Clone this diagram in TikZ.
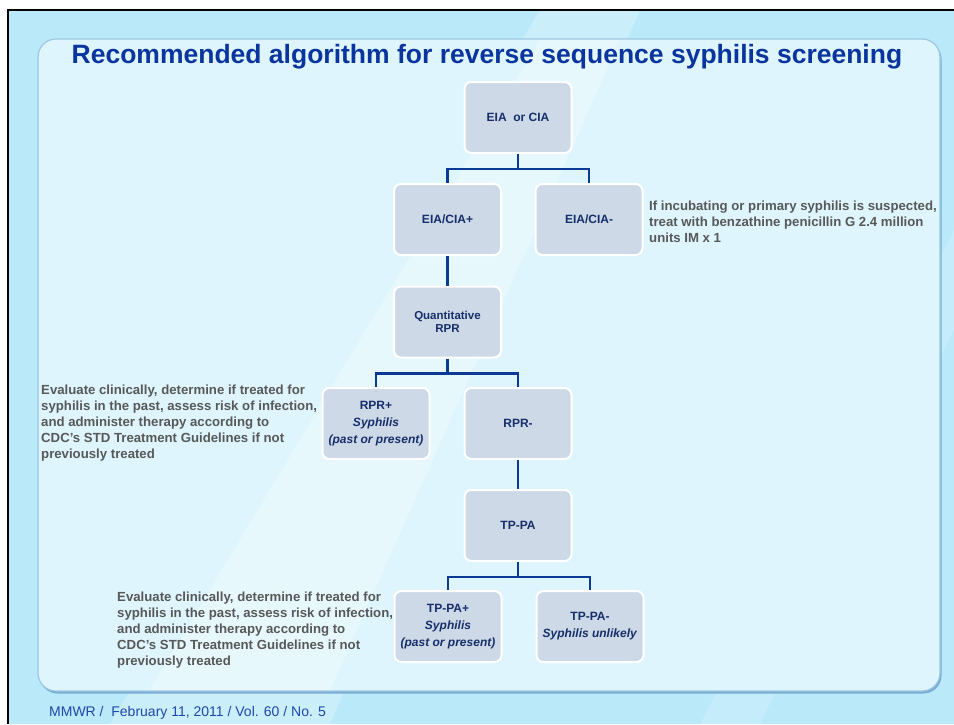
\documentclass[tikz,border=0pt]{standalone}
\usepackage{fontspec}
\setmainfont{Liberation Sans}
\usetikzlibrary{calc}
\definecolor{bgblue}{RGB}{186,233,250}
\definecolor{panelblue}{RGB}{222,245,253}
\definecolor{panelline}{RGB}{158,200,226}
\definecolor{panelshade}{RGB}{120,172,212}
\definecolor{boxfill}{RGB}{205,217,230}
\definecolor{boxtext}{RGB}{22,46,106}
\definecolor{connblue}{RGB}{10,58,148}
\definecolor{titleblue}{RGB}{10,52,158}
\definecolor{notegray}{RGB}{88,88,88}
\definecolor{footblue}{RGB}{30,72,168}
\tikzset{box/.style={rectangle,rounded corners=7pt,draw=white,line width=2pt,fill=boxfill,minimum width=107pt,minimum height=71pt,inner sep=2pt,align=center,text=boxtext,font=\fontsize{12}{17}\selectfont\bfseries}}
\tikzset{conn/.style={draw=connblue,line width=2.6pt}}
\tikzset{note/.style={anchor=west,align=left,inner sep=0pt,text=notegray,font=\fontsize{13.2}{16}\selectfont\bfseries}}

\begin{document}
\begin{tikzpicture}[x=1pt,y=-1pt]
\useasboundingbox (0,0) rectangle (954,724);
\fill[white] (0,0) rectangle (954,724);
\fill[bgblue] (8,10) rectangle (954,724);
% light streaks
\fill[white,opacity=0.25] (110,724) -- (330,724) -- (640,10) -- (540,10) -- cycle;
\fill[white,opacity=0.15] (700,724) -- (760,724) -- (954,330) -- (954,230) -- cycle;
\draw[black,line width=2pt] (8,724) -- (8,10) -- (954,10);
% panel
\fill[panelshade,rounded corners=18pt] (39.5,41) rectangle (941.5,693.5);
\fill[panelblue,draw=panelline,line width=1.2pt,rounded corners=18pt] (38,39) rectangle (940,691);
\fill[white,opacity=0.3] (150,690) -- (330,690) -- (620,40) -- (540,40) -- cycle;

\node[font=\fontsize{26.5}{30}\selectfont\bfseries,text=titleblue] (head) at (487,57) {Recommended algorithm for reverse sequence syphilis screening};

\node[box] (E) at (518,117.5) {EIA\ \ or CIA};
\node[box] (E1) at (447.5,219.5) {EIA/CIA+};
\node[box] (E2) at (589,219.5) {EIA/CIA-};
\node[box,font=\fontsize{11.5}{12.5}\selectfont\bfseries] (Q) at (447.5,322) {Quantitative\\RPR};
\node[box] (R1) at (376,423.5) {RPR+\\\textit{Syphilis}\\\textit{(past or present)}};
\node[box] (R2) at (518,423.5) {RPR-};
\node[box] (T) at (518,525.5) {TP-PA};
\node[box] (T1) at (448,626.5) {TP-PA+\\\textit{Syphilis}\\\textit{(past or present)}};
\node[box] (T2) at (590,626.5) {TP-PA-\\\textit{Syphilis unlikely}};

\draw[conn] (E.south) -- ++(0,15);
\draw[conn] (E1.north) |- ($(E.south)+(0,15)$) -| (E2.north);
\draw[conn] (E1.south) -- (Q.north);
\draw[conn] (Q.south) -- ++(0,15);
\draw[conn] (R1.north) |- ($(Q.south)+(0,15)$) -| (R2.north);
\draw[conn] (R2.south) -- (T.north);
\draw[conn] (T.south) -- ++(0,15);
\draw[conn] (T1.north) |- ($(T.south)+(0,15)$) -| (T2.north);

\node[note] (N1) at (649,222) {If incubating or primary syphilis is suspected,\\treat with benzathine penicillin G 2.4 million\\units IM x 1};
\node[note] (N2) at (41,423) {Evaluate clinically, determine if treated for\\syphilis in the past, assess risk of infection,\\and administer therapy according to\\CDC's STD Treatment Guidelines if not\\previously treated};
\node[note] (N3) at (117,630) {Evaluate clinically, determine if treated for\\syphilis in the past, assess risk of infection,\\and administer therapy according to\\CDC's STD Treatment Guidelines if not\\previously treated};

\node[anchor=west,inner sep=0pt,text=footblue,font=\fontsize{14}{16}\selectfont] (foot) at (49,713) {MMWR /\ \ February 11, 2011 / Vol. 60 / No. 5};
\end{tikzpicture}
\end{document}
